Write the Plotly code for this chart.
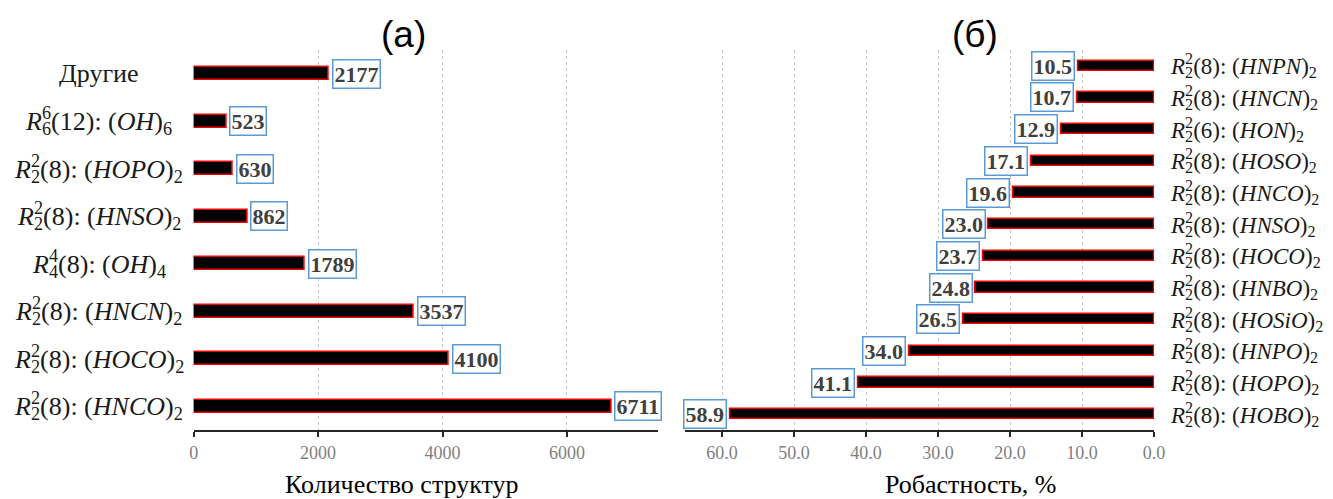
import plotly.graph_objects as go

# ---- data ----
left_rings = ["2,2,8", "2,2,8", "2,2,8", "4,4,8", "2,2,8", "2,2,8", "6,6,12", ""]
left_groups = ["HNCO", "HOCO", "HNCN", "OH", "HNSO", "HOPO", "OH", "Другие"]
left_mult = ["2", "2", "2", "4", "2", "2", "6", ""]
left_values = [6711, 4100, 3537, 1789, 862, 630, 523, 2177]
left_ticks = [0, 2000, 4000, 6000]

right_rings = ["8", "8", "8", "8", "8", "8", "8", "8", "8", "6", "8", "8"]
right_groups = ["HOBO", "HOPO", "HNPO", "HOSiO", "HNBO", "HOCO", "HNSO", "HNCO",
                "HOSO", "HON", "HNCN", "HNPN"]
right_values = [58.9, 41.1, 34.0, 26.5, 24.8, 23.7, 23.0, 19.6, 17.1, 12.9, 10.7, 10.5]
right_ticks = [0, 10, 20, 30, 40, 50, 60]

title_left = "(a)"
title_right = "(б)"
xtitle_left = "Количество структур"
xtitle_right = "Робастность, %"

W, H = 1333, 499
SERIF = "Liberation Serif, Times New Roman, serif"
SANS = "Liberation Sans, Arial, sans-serif"
LEFT_SIZE = 26
RIGHT_SIZE = 23


def px(p):
    # empirical page placement compensation (horizontal)
    return ((p - 12.2) / 0.9886) / W


def py(q):
    return 1 - (q - 8) / H


def motif(sup, sub, ring, group, mult, size):
    if not ring:
        return group
    ls = round(0.5 * 0.7 * size)
    return (f"<i>R</i><sup><span style='letter-spacing:-{ls}px'>{sup}</span></sup>"
            f"<sub>{sub}</sub>({ring}): (<i>{group}</i>)<sub>{mult}</sub>")


left_labels = []
for r, g, m in zip(left_rings, left_groups, left_mult):
    if r:
        a, b, c = r.split(",")
        left_labels.append(motif(a, b, c, g, m, LEFT_SIZE))
    else:
        left_labels.append(g)
right_labels = [motif("2", "2", r, g, "2", RIGHT_SIZE) for r, g in zip(right_rings, right_groups)]

fig = go.Figure()
left_idx = list(range(len(left_values)))
right_idx = list(range(len(right_values)))

fig.add_trace(go.Bar(
    x=left_values, y=left_idx, orientation="h", width=0.27,
    marker=dict(color="black", line=dict(color="#F00000", width=1.6)),
    xaxis="x", yaxis="y", showlegend=False, hoverinfo="skip"))
fig.add_trace(go.Bar(
    x=right_values, y=right_idx, orientation="h", width=0.32,
    marker=dict(color="black", line=dict(color="#F00000", width=1.6)),
    xaxis="x2", yaxis="y2", showlegend=False, hoverinfo="skip"))

ydom = [py(430), py(50)]
axis_common = dict(
    showgrid=True, gridcolor="#C8C8C8", griddash="dot", gridwidth=1,
    zeroline=False, showline=True, linecolor="#262626", linewidth=2,
    ticks="outside", ticklen=5, tickwidth=2, tickcolor="#262626",
    tickfont=dict(family=SERIF, size=18, color="#7F7F7F"),
)
fig.update_layout(
    width=W, height=H,
    margin=dict(l=0, r=0, t=0, b=0),
    paper_bgcolor="white", plot_bgcolor="white",
    bargap=0,
    xaxis=dict(domain=[px(193), px(658)], range=[0, 7470],
               tickvals=left_ticks, anchor="y", **axis_common),
    yaxis=dict(domain=ydom, range=[-0.5, len(left_values) - 0.5],
               showticklabels=False, showgrid=False, zeroline=False,
               showline=False, anchor="x"),
    xaxis2=dict(domain=[px(685), px(1154)], range=[65.1, 0],
                tickvals=right_ticks, tickformat=".1f", anchor="y2", **axis_common),
    yaxis2=dict(domain=ydom, range=[-0.5, len(right_values) - 0.5],
                showticklabels=False, showgrid=False, zeroline=False,
                showline=False, anchor="x2"),
)

ann = []
box = dict(bordercolor="#5B9BD5", borderwidth=1.5, borderpad=1, bgcolor="white",
           font=dict(family=SERIF, size=22, color="#404040"))
for i, v in enumerate(left_values):
    ann.append(dict(x=v, y=i, xref="x", yref="y", text=f"<b>{v}</b>",
                    showarrow=False, xanchor="left", yanchor="middle", xshift=3, **box))
    ann.append(dict(x=px(98), y=i, xref="paper", yref="y", text=left_labels[i],
                    showarrow=False, xanchor="center", yanchor="middle",
                    font=dict(family=SERIF, size=LEFT_SIZE, color="#1a1a1a")))
for i, v in enumerate(right_values):
    ann.append(dict(x=v, y=i, xref="x2", yref="y2", text=f"<b>{v:.1f}</b>",
                    showarrow=False, xanchor="right", yanchor="middle", xshift=-3, **box))
    ann.append(dict(x=px(1168), y=i, xref="paper", yref="y2", text=right_labels[i],
                    showarrow=False, xanchor="left", yanchor="middle",
                    font=dict(family=SERIF, size=RIGHT_SIZE, color="#1a1a1a")))

ann.append(dict(x=px(403), y=py(34), xref="paper", yref="paper", text=title_left,
                showarrow=False, xanchor="center", yanchor="middle",
                font=dict(family=SANS, size=37, color="black")))
ann.append(dict(x=px(975), y=py(34), xref="paper", yref="paper", text=title_right,
                showarrow=False, xanchor="center", yanchor="middle",
                font=dict(family=SANS, size=37, color="black")))
ann.append(dict(x=px(401), y=py(484), xref="paper", yref="paper", text=xtitle_left,
                showarrow=False, xanchor="center", yanchor="middle",
                font=dict(family=SERIF, size=26, color="black")))
ann.append(dict(x=px(970), y=py(484), xref="paper", yref="paper", text=xtitle_right,
                showarrow=False, xanchor="center", yanchor="middle",
                font=dict(family=SERIF, size=26, color="black")))
fig.update_layout(annotations=ann)

fig.write_html("out.html")
